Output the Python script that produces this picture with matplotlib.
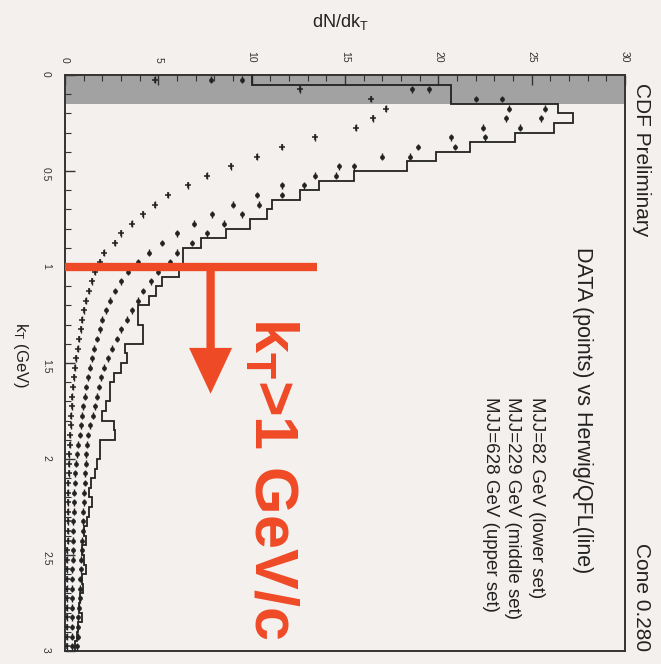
import numpy as np
import matplotlib.pyplot as plt
from matplotlib import rcParams

config = {
    "font.family": ['Liberation Sans', 'DejaVu Sans'],
    "mathtext.fontset": 'custom',
    "mathtext.rm": 'Liberation Sans',
    "mathtext.it": 'Liberation Sans:italic',
    "mathtext.bf": 'Liberation Sans:bold',
}
rcParams.update(config)

# kT bins (GeV), 0.05 wide, 0 -> 3
kt_edges = np.linspace(0.0, 3.0, 61)
kt_centers = 0.5 * (kt_edges[:-1] + kt_edges[1:])

# Herwig/QFL line, MJJ=628 GeV (upper set)
herwig_upper = [10.0, 20.7, 20.7, 26.4, 27.2, 26.2, 24.1, 21.7, 19.9, 18.3,
                15.5, 13.6, 12.6, 11.1, 10.8, 9.9, 8.6, 7.3, 6.3, 6.3,
                6.1, 5.2, 4.9, 4.5, 3.9, 3.9, 4.2, 4.2, 3.2, 3.3,
                3.0, 2.6, 2.4, 2.4, 2.2, 2.0, 2.6, 2.7, 1.9, 1.9,
                1.7, 1.6, 1.4, 1.3, 1.45, 1.3, 1.2, 1.0, 1.1, 0.9,
                1.0, 1.1, 0.9, 0.95, 0.8, 0.75, 0.9, 0.7, 0.65, 0.55]

# DATA points
data_lower = [4.8, 12.6, 16.4, 17.2, 16.5, 15.6, 13.4, 11.6, 10.3, 8.9,
              7.6, 6.6, 5.5, 4.8, 4.2, 3.6, 3.0, 2.7, 2.1, 1.9,
              1.6, 1.45, 1.3, 1.15, 1.0, 0.92, 0.85, 0.75, 0.68, 0.6,
              0.53, 0.47, 0.43, 0.4, 0.36, 0.33, 0.3, 0.27, 0.25, 0.22,
              0.2, 0.19, 0.18, 0.17, 0.16, 0.16, 0.15, 0.14, 0.14, 0.13,
              0.13, 0.12, 0.12, 0.12, 0.11, 0.11, 0.1, 0.1, 0.1, 0.09]
data_middle = [7.8, 18.6, 22.0, 23.8, 23.6, 22.4, 20.7, 18.9, 17.0, 14.7,
               13.4, 11.6, 10.3, 9.0, 7.9, 6.9, 6.0, 5.2, 4.5, 3.9,
               3.4, 3.0, 2.7, 2.4, 2.2, 2.0, 1.85, 1.7, 1.55, 1.45,
               1.35, 1.25, 1.15, 1.05, 0.98, 0.9, 0.85, 0.78, 0.72, 0.66,
               0.6, 0.56, 0.53, 0.5, 0.48, 0.46, 0.45, 0.44, 0.43, 0.42,
               0.41, 0.4, 0.4, 0.39, 0.38, 0.38, 0.37, 0.37, 0.36, 0.36]
data_upper = [9.5, 19.5, 23.4, 25.7, 25.5, 24.4, 22.5, 20.9, 18.5, 15.5,
              14.5, 12.8, 11.6, 10.4, 9.5, 8.5, 7.6, 6.8, 6.0, 5.6,
              5.0, 4.6, 4.2, 3.9, 3.6, 3.3, 3.0, 2.8, 2.5, 2.3,
              2.1, 1.95, 1.8, 1.7, 1.6, 1.5, 1.35, 1.25, 1.2, 1.15,
              1.1, 1.08, 1.05, 1.02, 1.0, 0.98, 0.96, 0.95, 0.92, 0.9,
              0.88, 0.85, 0.82, 0.8, 0.78, 0.75, 0.72, 0.7, 0.68, 0.65]

xticks = [0, 5, 10, 15, 20, 25, 30]
yticks = [0, 0.5, 1, 1.5, 2, 2.5, 3]
ytick_labels = ['0', '0.5', '1', '1.5', '2', '2.5', '3']
legend_lines = ['MJJ=82 GeV (lower set)', 'MJJ=229 GeV (middle set)',
                'MJJ=628 GeV (upper set)']
kt_cut = 1.0
band_top = 0.15

W, H = 661, 664
bg = '#f4f0ee'
red = '#ef4a26'
ink = '#222222'


def px(x, y):
    return x / W, 1 - y / H


fig = plt.figure(figsize=(W / 100, H / 100), dpi=100, facecolor=bg)
ax = fig.add_axes([65 / W, 13 / H, 560 / W, 576 / H])
ax.set_facecolor(bg)

ax.axhspan(0, band_top, color='#a2a2a2', zorder=0, lw=0)

ax.stairs(herwig_upper, kt_edges, orientation='horizontal', baseline=None,
          color=ink, lw=1.3, zorder=3)
ax.errorbar(data_upper, kt_centers, yerr=0.018, fmt='o', ms=2.4, color=ink,
            elinewidth=1.0, capsize=0, zorder=4)
ax.errorbar(data_middle, kt_centers, yerr=0.018, fmt='o', ms=2.4, color=ink,
            elinewidth=1.0, capsize=0, zorder=4)
ax.errorbar(data_lower, kt_centers, yerr=0.018, fmt='+', ms=5, mew=1.1,
            color=ink, elinewidth=1.0, capsize=0, zorder=4)

ax.set_xlim(0, 30)
ax.set_ylim(3, 0)
ax.xaxis.tick_top()
ax.set_xticks(xticks)
ax.set_xticks(np.arange(0, 31, 1), minor=True)
ax.set_yticks(yticks, ytick_labels)
ax.set_yticks(np.arange(0, 3.01, 0.1), minor=True)
ax.tick_params(axis='x', which='both', direction='in', top=True, bottom=False,
               labeltop=True, labelbottom=False, labelrotation=270, pad=9,
               labelsize=7.5, colors='#333333')
ax.tick_params(axis='y', which='both', direction='in', left=True, right=False,
               labelrotation=270, pad=10, labelsize=7.5, colors='#333333')
ax.tick_params(which='major', length=7, width=1.0)
ax.tick_params(which='minor', length=4, width=0.8)
for s in ax.spines.values():
    s.set_color('#333333')
    s.set_linewidth(1.4)

# kT > 1 GeV/c cut
ax.plot([0, 13.5], [kt_cut, kt_cut], color=red, lw=6, solid_capstyle='butt',
        clip_on=False, zorder=6)
ax.annotate('', xy=(7.8, kt_cut + 0.66), xytext=(7.8, kt_cut - 0.01),
            arrowprops=dict(facecolor=red, edgecolor='none', width=6,
                            headwidth=31, headlength=33, shrink=0), zorder=6)
ax.text(11.0, kt_cut + 0.26, r'k$_{\mathbf{T}}$>1 GeV/c', rotation=270,
        color=red, fontsize=44, fontweight='bold', ha='center', va='top',
        zorder=6)

fig.text(*px(340, 22), r'dN/dk$_\mathrm{T}$', ha='center', va='center',
         fontsize=13, color='#222222')
fig.text(*px(20, 355), r'k$_\mathrm{T}$ (GeV)', ha='center', va='center',
         rotation=270, fontsize=12, color='#222222')
fig.text(*px(641, 83), 'CDF Preliminary', ha='center', va='top',
         rotation=270, fontsize=15, color='#222222')
fig.text(*px(641, 543), 'Cone 0.280', ha='center', va='top',
         rotation=270, fontsize=15, color='#222222')
fig.text(*px(583, 247), 'DATA (points) vs Herwig/QFL(line)', ha='center',
         va='top', rotation=270, fontsize=15.5, color='#222222')
for xpos, line in zip([537, 513, 490], legend_lines):
    fig.text(*px(xpos, 397), line, ha='center', va='top', rotation=270,
             fontsize=13.5, color='#222222')

plt.savefig('out.png', dpi=100, facecolor=bg)
